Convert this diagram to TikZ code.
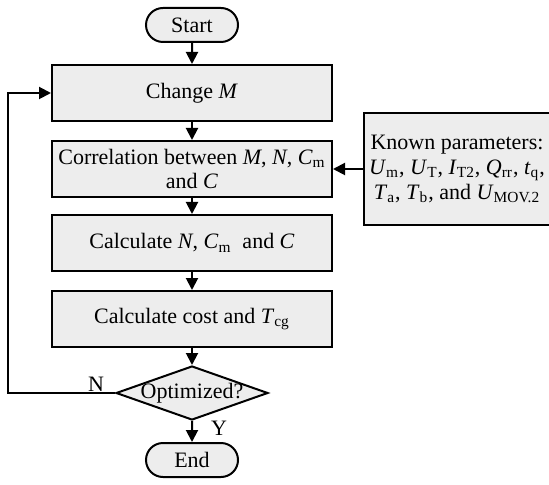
\documentclass[tikz,border=0pt]{standalone}
\usepackage{fontspec}
\setmainfont{Liberation Serif}
\usepackage{tikz}
\usetikzlibrary{positioning,shapes,arrows.meta,shapes.misc,shapes.geometric}
\newcommand{\vr}[2]{\textit{#1}\textsubscript{#2}}

\begin{document}
\begin{tikzpicture}[x=0.5pt,y=-0.5pt,font=\fontsize{11}{12}\selectfont,
  box/.style={draw,line width=1pt,fill=gray!14,minimum width=140pt,minimum height=28pt,inner sep=1pt,align=center},
  term/.style={draw,line width=1pt,fill=gray!14,rounded rectangle,minimum width=48pt,minimum height=17pt,inner sep=1pt},
  test/.style={draw,line width=1pt,fill=gray!14,diamond,minimum width=76pt,minimum height=27pt,inner sep=0pt},
  arr/.style={line width=1pt,-{Triangle[length=6pt,width=6pt]}}]
\useasboundingbox (0,0) rectangle (549,485);
\node[term] (start) at (192,25) {Start};
\node[box] (chg) at (192,93) {Change \textit{M}};
\node[box] (corr) at (192,169) {Correlation between \textit{M}, \textit{N}, \vr{C}{m}\\ and \textit{C}};
\node[box] (calc) at (192,243) {Calculate \textit{N}, \vr{C}{m}\ \ and \textit{C}};
\node[box] (cost) at (192,319) {Calculate cost and \vr{T}{cg}};
\node[test] (opt) at (192,393) {};
\node (optx) at (opt) {Optimized?};
\node[term] (end) at (192,460) {End};
\node[draw,line width=1pt,fill=gray!14,minimum width=93pt,minimum height=56pt,inner sep=1pt,align=center,
  font=\fontsize{11}{12.5}\selectfont] (known) at (457,169)
  {Known parameters:\\ \vr{U}{m}, \vr{U}{T}, \vr{I}{T2}, \vr{Q}{rr}, \vr{t}{q},\\ \vr{T}{a}, \vr{T}{b}, and \vr{U}{MOV.2}};
\coordinate (lb) at (8,393); \coordinate (lt) at (8,93);
\draw[arr] (start) -- (chg); \draw[arr] (chg) -- (corr); \draw[arr] (corr) -- (calc);
\draw[arr] (calc) -- (cost); \draw[arr] (cost) -- (opt); \draw[arr] (opt) -- (end);
\draw[arr] (known) -- (corr);
\draw[arr] (opt.west) -- (lb) -- (lt) -- (chg.west);
\node (n) at (96,384) {N}; \node (y) at (219,428) {Y};
\end{tikzpicture}
\end{document}
